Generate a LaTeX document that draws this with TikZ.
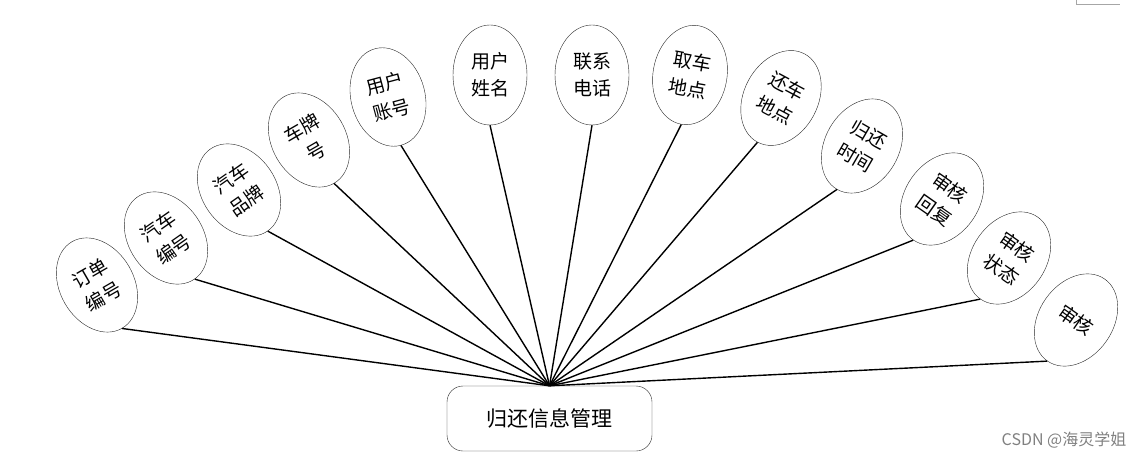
\documentclass[tikz,border=0pt]{standalone}
\usepackage{fontspec}
\setmainfont{Noto Sans CJK SC}
\usetikzlibrary{shapes.geometric}

\begin{document}
\begin{tikzpicture}[x=1pt,y=-1pt,
		attr/.style={draw=black!85,ellipse,minimum width=74pt,minimum height=100pt,inner sep=0pt,align=center,font=\fontsize{19}{27}\selectfont},
		link/.style={line width=1.4pt}]
			\useasboundingbox (0,0) rectangle (1147,457);
			\node[draw=black!85,rounded corners=16pt,minimum width=205pt,minimum height=65pt,font=\fontsize{21}{24}\selectfont] (mgr) at (549.5,418.5) {归还信息管理};
			\node[attr,rotate=30] (a1) at (97,285) {订单\\编号};
			\node[attr,rotate=35] (a2) at (166,238) {汽车\\编号};
			\node[attr,rotate=35] (a3) at (239,190) {汽车\\品牌};
			\node[attr,rotate=30] (a4) at (309,140) {车牌\\号};
			\node[attr,rotate=15] (a5) at (388,97) {用户\\账号};
			\node[attr] (a6) at (490,75) {用户\\姓名};
			\node[attr] (a7) at (592,75) {联系\\电话};
			\node[attr,rotate=-10] (a8) at (690,75) {取车\\地点};
			\node[attr,rotate=-28] (a9) at (781,98) {还车\\地点};
			\node[attr,rotate=-30] (a10) at (862,146) {归还\\时间};
			\node[attr,rotate=-35] (a11) at (942,199) {审核\\回复};
			\node[attr,rotate=-35] (a12) at (1009,258) {审核\\状态};
			\node[attr,rotate=-35] (a13) at (1076,320) {审核};
			\foreach \i in {1,...,13}
				\draw[link] (mgr.north) -- (a\i.south);
			\node[text=black!50,font=\fontsize{16}{18}\selectfont] (mark) at (1064,440) {CSDN @海灵学姐};
			\coordinate (c1) at (1076,0);
			\coordinate (c2) at (1076,4);
			\coordinate (c3) at (1120,4);
			\draw[black!35] (c1) -- (c2) -- (c3);
		\end{tikzpicture}
\end{document}
